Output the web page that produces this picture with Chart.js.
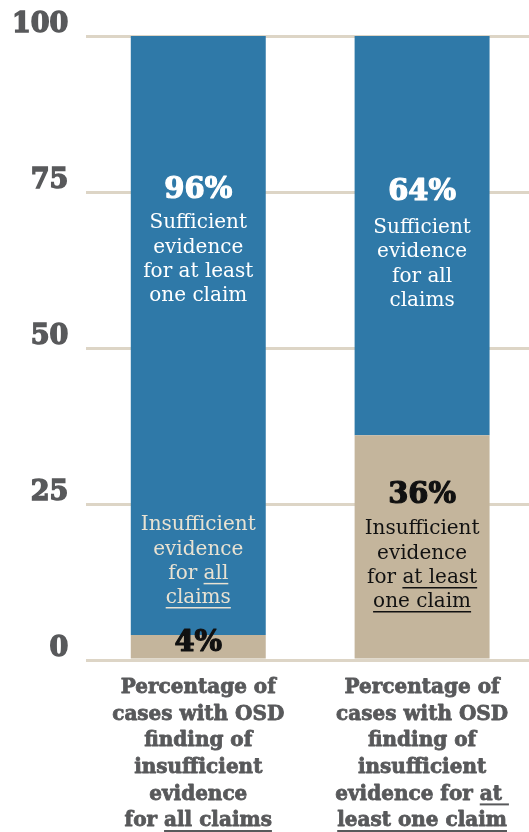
<!DOCTYPE html>
<html>
<head>
<meta charset="utf-8">
<script src="https://cdn.jsdelivr.net/npm/chart.js@4.4.0/dist/chart.umd.min.js"></script>
<style>
  html, body { margin: 0; padding: 0; background: #fff; overflow: hidden; }
  #wrap { width: 534px; height: 832px; }
</style>
</head>
<body>
<div id="wrap"><canvas id="osdChart"></canvas></div>
<script>
const categories = ['all claims', 'at least one claim'];
const insufficientPct = [4, 36];
const sufficientPct = [96, 64];
const yTicks = [0, 25, 50, 75, 100];

const xLabelLines = [
    [['Percentage of'], ['cases with OSD'], ['finding of'], ['insufficient'], ['evidence'], ['for all claims', 'all claims']],
    [['Percentage of'], ['cases with OSD'], ['finding of'], ['insufficient'], ['evidence for at ', 'at '], ['least one claim', 'least one claim']]
];

// text blocks inside the bars, anchored at a value on the y scale
const barNotes = [
    { bar: 0, at: 75.3, pct: '96%', gap: 33, color: '#ffffff', pctColor: '#ffffff',
      lines: [['Sufficient'], ['evidence'], ['for at least'], ['one claim']] },
    { bar: 0, at: 21.6, pct: null, gap: 0, color: '#e9e2d2', pctColor: '#e9e2d2',
      lines: [['Insufficient'], ['evidence'], ['for all', 'all'], ['claims', 'claims']] },
    { bar: 0, at: 2.6, pct: '4%', gap: 0, color: '#111', pctColor: '#111', lines: [] },
    { bar: 1, at: 75.0, pct: '64%', gap: 36, color: '#ffffff', pctColor: '#ffffff',
      lines: [['Sufficient'], ['evidence'], ['for all'], ['claims']] },
    { bar: 1, at: 26.4, pct: '36%', gap: 34, color: '#111', pctColor: '#111',
      lines: [['Insufficient'], ['evidence'], ['for at least', 'at least'], ['one claim', 'one claim']] }
];

const blue = '#2f79a8';
const tan = '#c4b59c';
const gridTan = '#ddd5c6';
const serif = "'DejaVu Serif', 'Liberation Serif', serif";

function drawLine(ctx, x, y, parts, size, color, ulWidth, strokeW) {
    const text = parts[0];
    const under = parts[1];
    const w = ctx.measureText(text).width;
    const left = x - w / 2;
    ctx.fillStyle = color;
    ctx.textAlign = 'left';
    ctx.textBaseline = 'middle';
    ctx.fillText(text, left, y);
    if (strokeW) {
        ctx.strokeStyle = color;
        ctx.lineWidth = strokeW;
        ctx.lineJoin = 'round';
        ctx.strokeText(text, left, y);
    }
    if (under) {
        const idx = text.lastIndexOf(under);
        const ux = left + ctx.measureText(text.slice(0, idx)).width;
        const uw = ctx.measureText(under).width;
        ctx.strokeStyle = color;
        ctx.lineWidth = ulWidth;
        ctx.beginPath();
        ctx.moveTo(ux, y + size * 0.5);
        ctx.lineTo(ux + uw, y + size * 0.5);
        ctx.stroke();
    }
}

const notesPlugin = {
    id: 'notes',
    afterDraw(chart) {
        const ctx = chart.ctx;
        const xs = chart.scales.x;
        const ys = chart.scales.y;
        ctx.save();
        barNotes.forEach(note => {
            const x = xs.getPixelForValue(note.bar);
            let y = ys.getPixelForValue(note.at);
            if (note.pct) {
                ctx.font = `bold 29px ${serif}`;
                drawLine(ctx, x, y, [note.pct], 29, note.pctColor, 0, 1.2);
                y += note.gap;
            }
            ctx.font = `20px ${serif}`;
            note.lines.forEach((line, i) => {
                drawLine(ctx, x, y + i * 24.2, line, 20, note.color, 1.5, 0);
            });
        });
        // category labels under the bars
        ctx.font = `bold 20px ${serif}`;
        xLabelLines.forEach((lines, i) => {
            const x = xs.getPixelForValue(i);
            lines.forEach((line, k) => {
                drawLine(ctx, x, chart.chartArea.bottom + 28 + k * 26.6, line, 20, '#58595b', 2, 0.8);
            });
        });
        ctx.restore();
    }
};

new Chart(document.getElementById('osdChart'), {
    type: 'bar',
    data: {
        labels: categories,
        datasets: [
            { label: 'Insufficient evidence', data: insufficientPct, backgroundColor: tan },
            { label: 'Sufficient evidence', data: sufficientPct, backgroundColor: blue }
        ]
    },
    options: {
        responsive: true,
        maintainAspectRatio: false,
        animation: false,
        layout: { padding: { top: 36, left: -6, right: 0, bottom: 164 } },
        plugins: { legend: { display: false }, tooltip: { enabled: false } },
        datasets: { bar: { barPercentage: 0.603, categoryPercentage: 1 } },
        scales: {
            x: {
                stacked: true,
                grid: { display: false },
                border: { display: false },
                ticks: { display: false }
            },
            y: {
                stacked: true,
                min: 0,
                max: 100,
                afterBuildTicks: scale => { scale.ticks = yTicks.map(v => ({ value: v })); },
                grid: { color: gridTan, lineWidth: 3, drawTicks: false },
                border: { display: false },
                ticks: {
                    padding: 18,
                    labelOffset: -11,
                    color: '#58595b',
                    textStrokeColor: '#58595b',
                    textStrokeWidth: 1.5,
                    font: { family: serif, size: 27, weight: 'bold' }
                }
            }
        }
    },
    plugins: [notesPlugin]
});
</script>
</body>
</html>
